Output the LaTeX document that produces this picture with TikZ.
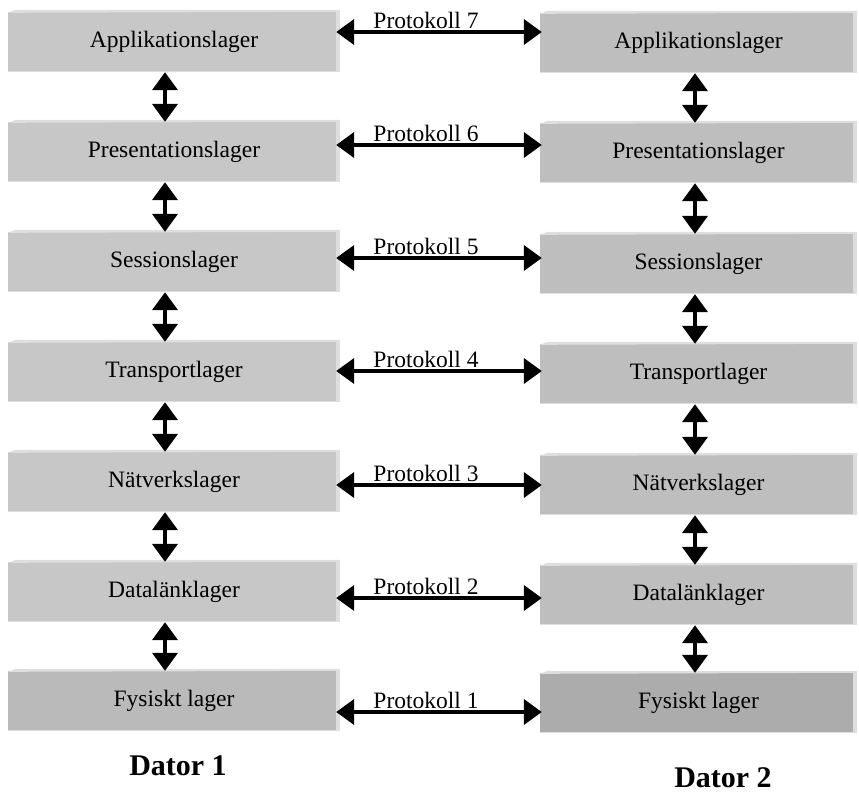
\documentclass[tikz,border=0pt]{standalone}
\usepackage{fontspec}
\setmainfont{Liberation Serif}
\usetikzlibrary{arrows.meta}
\definecolor{lbox}{RGB}{199,199,199}
\definecolor{rbox}{RGB}{190,190,190}
\definecolor{lphys}{RGB}{186,186,186}
\definecolor{rphys}{RGB}{172,172,172}
\definecolor{hilite}{RGB}{222,222,222}
\tikzset{
  layer/.style={rectangle, inner sep=0pt, minimum height=60pt, font=\fontsize{23.5}{26}\selectfont, text=black},
  leftbox/.style={layer, minimum width=332pt, fill=lbox},
  rightbox/.style={layer, minimum width=317pt, fill=rbox},
  proto/.style={font=\fontsize{23.5}{26}\selectfont, anchor=base, inner sep=0pt},
  dubarrow/.style={line width=4pt, {Triangle[length=18pt,width=25pt]}-{Triangle[length=18pt,width=25pt]}, shorten <=0pt, shorten >=0pt},
  dator/.style={font=\fontsize{30}{34}\selectfont\bfseries}
}
\begin{document}
\begin{tikzpicture}[x=1pt,y=-1pt]
\useasboundingbox (0,0) rectangle (859,793);
% left stack
\node[leftbox] (L1) at (174,42) {Applikationslager};
\node[leftbox] (L2) at (174,152) {Presentationslager};
\node[leftbox] (L3) at (174,262) {Sessionslager};
\node[leftbox] (L4) at (174,372) {Transportlager};
\node[leftbox] (L5) at (174,482) {Nätverkslager};
\node[leftbox] (L6) at (174,592) {Datalänklager};
\node[leftbox, fill=lphys] (L7) at (174,701) {Fysiskt lager};
% right stack
\node[rightbox] (R1) at (698.5,43) {Applikationslager};
\node[rightbox] (R2) at (698.5,153) {Presentationslager};
\node[rightbox] (R3) at (698.5,264) {Sessionslager};
\node[rightbox] (R4) at (698.5,374) {Transportlager};
\node[rightbox] (R5) at (698.5,485) {Nätverkslager};
\node[rightbox] (R6) at (698.5,595) {Datalänklager};
\node[rightbox, fill=rphys] (R7) at (698.5,703) {Fysiskt lager};
% bevel highlights
\foreach \n in {L1,L2,L3,L4,L5,L6,L7,R1,R2,R3,R4,R5,R6,R7}{
  \fill[hilite] ([yshift=-1pt]\n.north west) -- ([xshift=8pt,yshift=2pt]\n.north west) -- ([yshift=2pt]\n.north east) -- (\n.north east) -- cycle;
  \fill[hilite] ([xshift=-4pt]\n.north east) rectangle ([xshift=0pt,yshift=0pt]\n.south east);
  \fill[hilite] ([yshift=1.5pt]\n.south west) rectangle ([xshift=-4pt]\n.south east);
}
% protocol labels
\node[proto] (P7) at (426,28) {Protokoll 7};
\node[proto] (P6) at (426,141) {Protokoll 6};
\node[proto] (P5) at (426,254) {Protokoll 5};
\node[proto] (P4) at (426,367) {Protokoll 4};
\node[proto] (P3) at (426,481) {Protokoll 3};
\node[proto] (P2) at (426,594) {Protokoll 2};
\node[proto] (P1) at (426,708) {Protokoll 1};
% horizontal arrows
\foreach \i/\dy in {1/4,2/4,3/4,4/4,5/4,6/4,7/4}{}
\draw[dubarrow] ([xshift=-4pt]L1.east |- 0,32) -- ([xshift=2pt]R1.west |- 0,32);
\draw[dubarrow] ([xshift=-4pt]L2.east |- 0,145) -- ([xshift=2pt]R2.west |- 0,145);
\draw[dubarrow] ([xshift=-4pt]L3.east |- 0,258) -- ([xshift=2pt]R3.west |- 0,258);
\draw[dubarrow] ([xshift=-4pt]L4.east |- 0,371) -- ([xshift=2pt]R4.west |- 0,371);
\draw[dubarrow] ([xshift=-4pt]L5.east |- 0,485) -- ([xshift=2pt]R5.west |- 0,485);
\draw[dubarrow] ([xshift=-4pt]L6.east |- 0,598) -- ([xshift=2pt]R6.west |- 0,598);
\draw[dubarrow] ([xshift=-4pt]L7.east |- 0,712) -- ([xshift=2pt]R7.west |- 0,712);
% vertical arrows
\foreach \a/\b in {L1/L2,L2/L3,L3/L4,L4/L5,L5/L6,L6/L7}{
  \draw[dubarrow] ([xshift=-9pt]\a.south) -- ([xshift=-9pt]\b.north);
}
\foreach \a/\b in {R1/R2,R2/R3,R3/R4,R4/R5,R5/R6,R6/R7}{
  \draw[dubarrow] ([xshift=-3.5pt]\a.south) -- ([xshift=-3.5pt]\b.north);
}
% captions
\node[dator] (D1) at (178,766) {Dator 1};
\node[dator] (D2) at (723,778) {Dator 2};
\end{tikzpicture}
\end{document}
